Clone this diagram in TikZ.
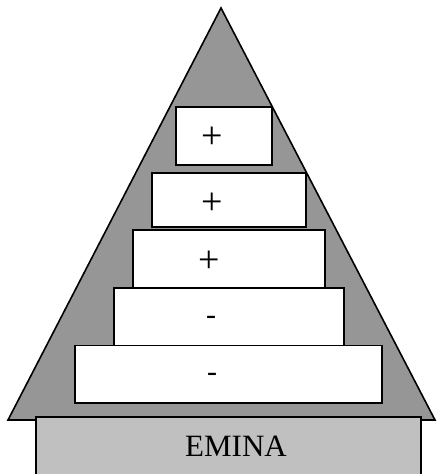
\documentclass[tikz,border=0pt]{standalone}
\usepackage{fontspec}
\setmainfont{Liberation Serif}
\begin{document}
\begin{tikzpicture}[x=1pt,y=-1pt,
  tri/.style={draw=black,line width=1.6pt,fill=triGray,line join=miter},
  stepbox/.style={draw=black,line width=1.8pt,fill=white},
  plussym/.style={inner sep=0pt,font=\fontsize{38}{38}\selectfont},
  minussym/.style={inner sep=0pt,font=\fontsize{30}{30}\selectfont},
  basebox/.style={draw=black,line width=1.8pt,fill=baseGray}]
\definecolor{triGray}{HTML}{969696}
\definecolor{baseGray}{HTML}{C0C0C0}
\useasboundingbox (0,0) rectangle (437,474);
\clip (0,0) rectangle (437,474);
% pyramid
\coordinate (apex) at (221,8);
\coordinate (bl) at (8,420);
\coordinate (br) at (435,420);
\draw[tri] (apex) -- (br) -- (bl) -- cycle;
% steps
\draw[stepbox] (175.7,107) rectangle (272.3,165);
\draw[stepbox] (152,173) rectangle (305.7,227);
\draw[stepbox] (132.7,230) rectangle (325,288);
\draw[stepbox] (113.7,288) rectangle (344,345.5);
\draw[stepbox] (74.7,345.5) rectangle (382.3,402.7);
\node[plussym] (p1) at (212.7,138) {+};
\node[plussym] (p2) at (212.7,204) {+};
\node[plussym] (p3) at (209.7,262) {+};
\node[minussym] (m1) at (211,320.3) {-};
\node[minussym] (m2) at (212,377.3) {-};
% base
\draw[basebox] (36,417) rectangle (421,480);
\node[inner sep=0pt,font=\fontsize{31}{31}\selectfont] (emina) at (236,446) {EMINA};
\end{tikzpicture}
\end{document}
